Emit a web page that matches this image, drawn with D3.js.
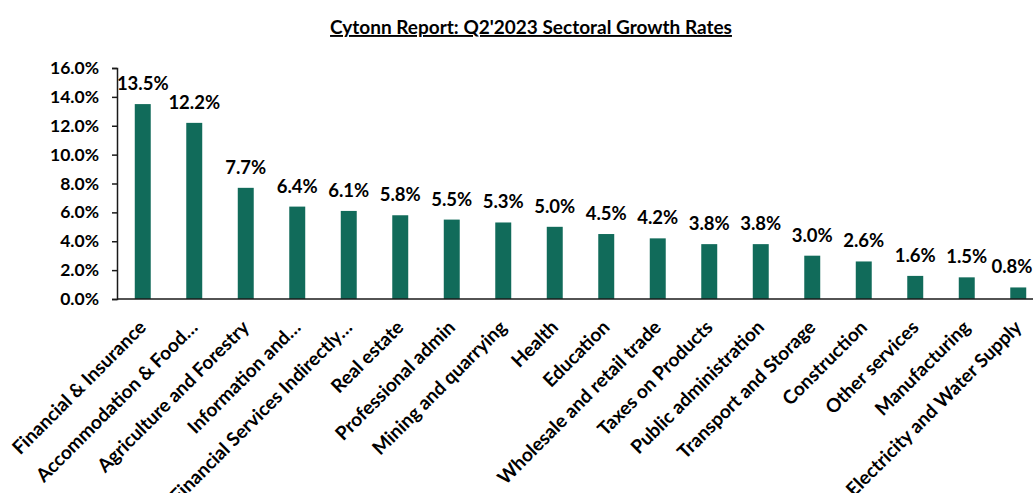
<!DOCTYPE html>
<html>
<head>
<meta charset="utf-8">
<script src="https://cdn.jsdelivr.net/npm/d3@7"></script>
<style>
  html, body { margin: 0; padding: 0; background: #fff; }
  svg { display: block; font-family: Lato, "Liberation Sans", sans-serif; font-weight: bold; }
  .title { font-size: 19px; text-decoration: underline; }
  .axis text { font-size: 17.5px; font-weight: bold; fill: #000; font-family: Lato, sans-serif; }
  .axis path, .axis line { stroke: #1a1a1a; stroke-width: 1.5; }
  .val { font-size: 18.5px; fill: #000; }
  .cat { font-size: 19px; fill: #000; }
</style>
</head>
<body>
<svg id="chart" width="1033" height="493"></svg>
<script>
// --- Data ---------------------------------------------------------
const sectors = [
  "Financial & Insurance", "Accommodation & Food…", "Agriculture and Forestry",
  "Information and…", "Financial Services Indirectly…", "Real estate",
  "Professional admin", "Mining and quarrying", "Health", "Education",
  "Wholesale and retail trade", "Taxes on Products", "Public administration",
  "Transport and Storage", "Construction", "Other services", "Manufacturing",
  "Electricity and Water Supply"
];
const growth = [13.5, 12.2, 7.7, 6.4, 6.1, 5.8, 5.5, 5.3, 5.0, 4.5, 4.2, 3.8, 3.8, 3.0, 2.6, 1.6, 1.5, 0.8];
const yTicks = [0, 2, 4, 6, 8, 10, 12, 14, 16];

// --- Layout -------------------------------------------------------
const svg = d3.select("#chart");
const plotL = 117, plotR = 1044, plotT = 68, plotB = 299;

const x = d3.scaleBand().domain(sectors).range([plotL, plotR]).paddingInner(0.69).paddingOuter(0.345);
const y = d3.scaleLinear().domain([0, 16]).range([plotB, plotT]);

svg.append("text").attr("class", "title")
  .attr("x", 531).attr("y", 34).attr("text-anchor", "middle")
  .text("Cytonn Report: Q2'2023 Sectoral Growth Rates");

// bars
svg.append("g").selectAll("rect").data(growth).enter().append("rect")
  .attr("x", (d, i) => x(sectors[i]))
  .attr("y", (d) => y(d))
  .attr("width", x.bandwidth())
  .attr("height", (d) => y(0) - y(d))
  .attr("fill", "#116b5a");

// value labels
svg.append("g").selectAll("text").data(growth).enter().append("text")
  .attr("class", "val")
  .attr("x", (d, i) => Math.min(x(sectors[i]) + x.bandwidth() / 2, 1012))
  .attr("y", (d) => y(d) - 14)
  .attr("text-anchor", "middle")
  .text((d) => d.toFixed(1) + "%");

// y axis
svg.append("g").attr("class", "axis")
  .attr("transform", `translate(${plotL},0)`)
  .call(d3.axisLeft(y).tickValues(yTicks).tickSize(5).tickPadding(13)
    .tickFormat((d) => d.toFixed(1) + "%"));

// x axis (line only)
svg.append("line")
  .attr("x1", plotL).attr("x2", 1033).attr("y1", plotB).attr("y2", plotB)
  .attr("stroke", "#1a1a1a").attr("stroke-width", 1.5);

// category labels
svg.append("g").selectAll("text").data(sectors).enter().append("text")
  .attr("class", "cat")
  .attr("transform", (d) => `translate(${x(d) + x.bandwidth() / 2 - 5},${plotB + 20}) rotate(-45)`)
  .attr("text-anchor", "end")
  .attr("dy", "0.71em")
  .text((d) => d);
</script>
</body>
</html>
